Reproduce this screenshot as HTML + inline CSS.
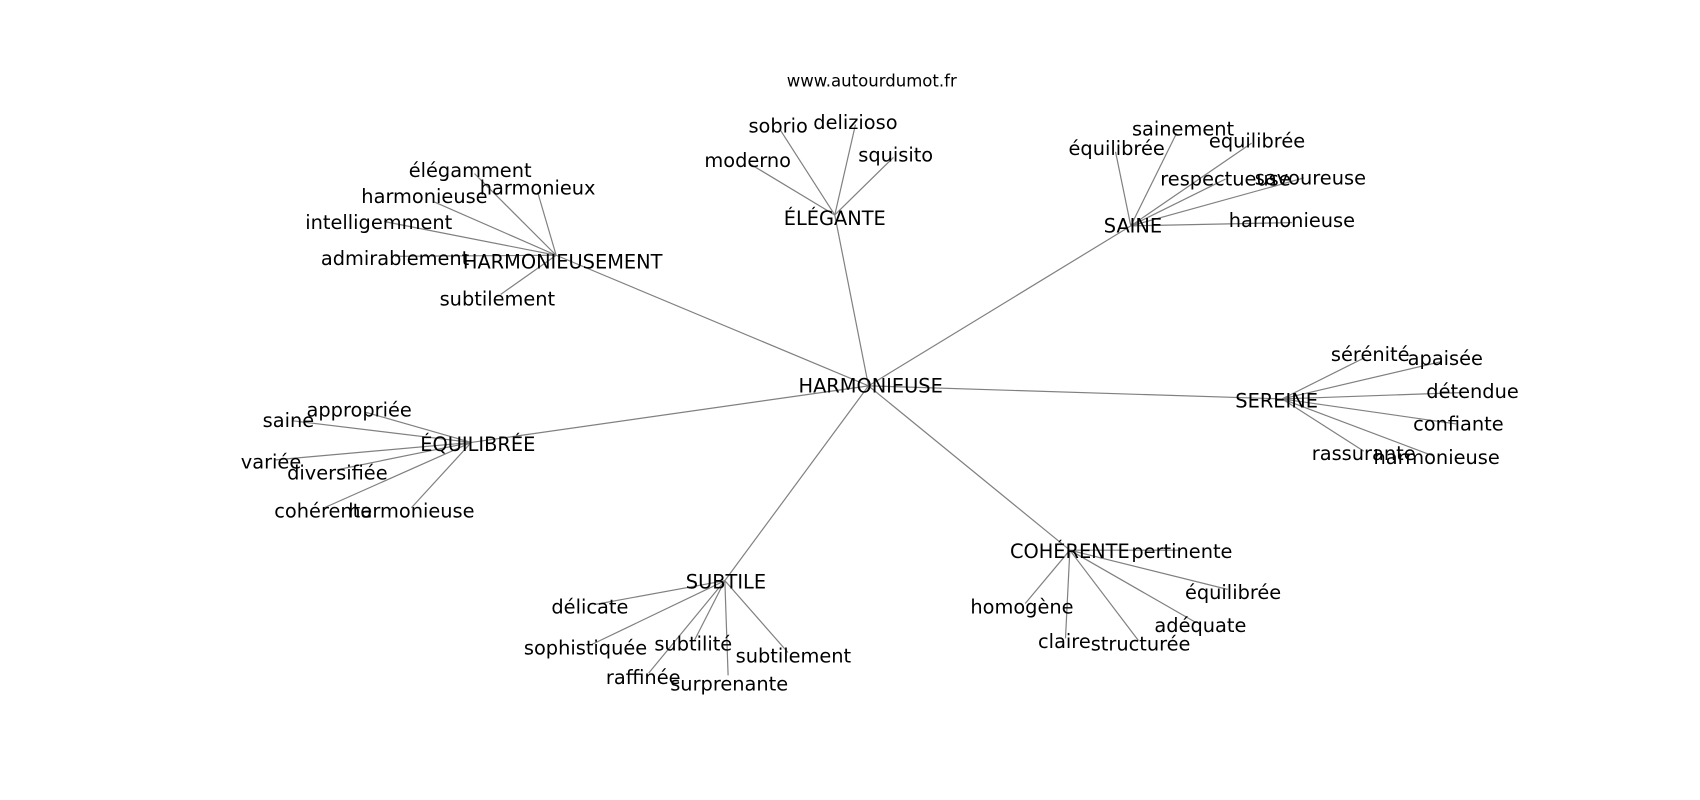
<!DOCTYPE html>
<html><head><meta charset="utf-8"><style>
html,body{margin:0;padding:0;background:#fff;width:1700px;height:800px;overflow:hidden}
svg text{font-family:"DejaVu Sans","Liberation Sans",sans-serif;font-size:17.8px;fill:#000;text-anchor:middle}
</style></head><body>
<svg width="1700" height="800" viewBox="0 0 1562 735" xmlns="http://www.w3.org/2000/svg">
<g transform="translate(-2,-1.5)">
<g stroke="#808080" stroke-width="1.1" fill="none">
<line x1="800" y1="356" x2="513" y2="236"/>
<line x1="800" y1="356" x2="769" y2="199"/>
<line x1="800" y1="356" x2="1041" y2="209"/>
<line x1="800" y1="356" x2="1180" y2="368"/>
<line x1="800" y1="356" x2="435" y2="408"/>
<line x1="800" y1="356" x2="668" y2="535"/>
<line x1="800" y1="356" x2="985" y2="507"/>
<line x1="513" y1="236" x2="438" y2="161"/>
<line x1="513" y1="236" x2="496" y2="178"/>
<line x1="513" y1="236" x2="401" y2="187"/>
<line x1="513" y1="236" x2="355" y2="205"/>
<line x1="513" y1="236" x2="365" y2="237"/>
<line x1="513" y1="236" x2="462" y2="272"/>
<line x1="769" y1="199" x2="719" y2="121"/>
<line x1="769" y1="199" x2="788" y2="116"/>
<line x1="769" y1="199" x2="691" y2="152"/>
<line x1="769" y1="199" x2="823" y2="146"/>
<line x1="1041" y1="209" x2="1083" y2="124"/>
<line x1="1041" y1="209" x2="1027" y2="141"/>
<line x1="1041" y1="209" x2="1152" y2="133"/>
<line x1="1041" y1="209" x2="1128" y2="166"/>
<line x1="1041" y1="209" x2="1200" y2="165"/>
<line x1="1041" y1="209" x2="1189" y2="206"/>
<line x1="1180" y1="368" x2="1256" y2="330"/>
<line x1="1180" y1="368" x2="1325" y2="334"/>
<line x1="1180" y1="368" x2="1350" y2="362"/>
<line x1="1180" y1="368" x2="1340" y2="391"/>
<line x1="1180" y1="368" x2="1255" y2="416"/>
<line x1="1180" y1="368" x2="1318" y2="420"/>
<line x1="435" y1="408" x2="337" y2="380"/>
<line x1="435" y1="408" x2="270" y2="388"/>
<line x1="435" y1="408" x2="255" y2="424"/>
<line x1="435" y1="408" x2="312" y2="433"/>
<line x1="435" y1="408" x2="300" y2="468"/>
<line x1="435" y1="408" x2="380" y2="468"/>
<line x1="668" y1="535" x2="548" y2="557"/>
<line x1="668" y1="535" x2="545" y2="594"/>
<line x1="668" y1="535" x2="640" y2="590"/>
<line x1="668" y1="535" x2="598" y2="620"/>
<line x1="668" y1="535" x2="671" y2="622"/>
<line x1="668" y1="535" x2="726" y2="601"/>
<line x1="985" y1="507" x2="1085" y2="507"/>
<line x1="985" y1="507" x2="1130" y2="543"/>
<line x1="985" y1="507" x2="944" y2="556"/>
<line x1="985" y1="507" x2="1100" y2="573"/>
<line x1="985" y1="507" x2="981" y2="588"/>
<line x1="985" y1="507" x2="1048" y2="590"/>
</g>
<text x="803" y="81" style="font-size:15.2px">www.autourdumot.fr</text>
<text x="802" y="362">HARMONIEUSE</text>
<text x="519" y="248">HARMONIEUSEMENT</text>
<text x="434" y="164">élégamment</text>
<text x="496" y="180">harmonieux</text>
<text x="392" y="188">harmonieuse</text>
<text x="350" y="212">intelligemment</text>
<text x="365" y="245">admirablement</text>
<text x="459" y="282">subtilement</text>
<text x="769" y="208">ÉLÉGANTE</text>
<text x="717" y="123">sobrio</text>
<text x="788" y="120">delizioso</text>
<text x="689" y="155">moderno</text>
<text x="825" y="150">squisito</text>
<text x="1043" y="215">SAINE</text>
<text x="1089" y="126">sainement</text>
<text x="1028" y="144">équilibrée</text>
<text x="1157" y="137">equilibrée</text>
<text x="1128" y="172">respectueuse</text>
<text x="1206" y="171">savoureuse</text>
<text x="1189" y="210">harmonieuse</text>
<text x="1175" y="376">SEREINE</text>
<text x="1261" y="333">sérénité</text>
<text x="1330" y="337">apaisée</text>
<text x="1355" y="367">détendue</text>
<text x="1342" y="397">confiante</text>
<text x="1255" y="424">rassurante</text>
<text x="1322" y="428">harmonieuse</text>
<text x="441" y="416">ÉQUILIBRÉE</text>
<text x="332" y="384">appropriée</text>
<text x="267" y="394">saine</text>
<text x="251" y="432">variée</text>
<text x="312" y="442">diversifiée</text>
<text x="299" y="477">cohérente</text>
<text x="380" y="477">harmonieuse</text>
<text x="669" y="542">SUBTILE</text>
<text x="544" y="565">délicate</text>
<text x="540" y="603">sophistiquée</text>
<text x="639" y="599">subtilité</text>
<text x="593" y="630">raffinée</text>
<text x="672" y="636">surprenante</text>
<text x="731" y="610">subtilement</text>
<text x="985" y="514">COHÉRENTE</text>
<text x="1088" y="514">pertinente</text>
<text x="1135" y="552">équilibrée</text>
<text x="941" y="565">homogène</text>
<text x="1105" y="582">adéquate</text>
<text x="980" y="597">claire</text>
<text x="1050" y="599">structurée</text>
</g>
</svg>
</body></html>
